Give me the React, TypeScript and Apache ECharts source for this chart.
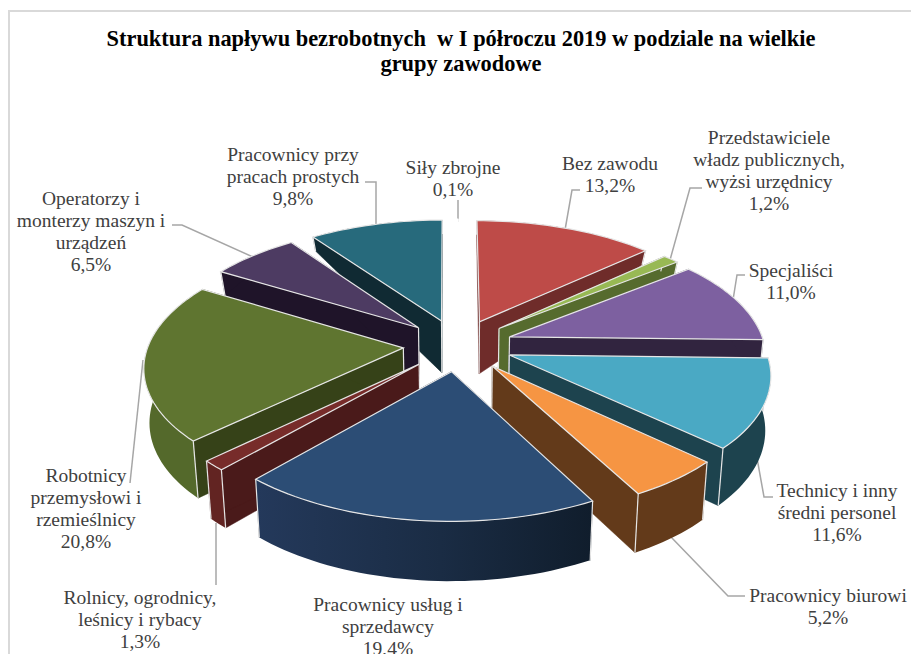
import React, { useEffect, useRef } from "react";
import * as echarts from "echarts";

const titleText = "Struktura napływu bezrobotnych  w I półroczu 2019 w podziale na wielkie\ngrupy zawodowe";
const categories = [
  "Bez zawodu",
  "Przedstawiciele\nwładz publicznych,\nwyżsi urzędnicy",
  "Specjaliści",
  "Technicy i inny\nśredni personel",
  "Pracownicy biurowi",
  "Pracownicy usług i\nsprzedawcy",
  "Rolnicy, ogrodnicy,\nleśnicy i rybacy",
  "Robotnicy\nprzemysłowi i\nrzemieślnicy",
  "Operatorzy i\nmonterzy maszyn i\nurządzeń",
  "Pracownicy przy\npracach prostych",
  "Siły zbrojne",
];
const shares = [13.2, 1.2, 11.0, 11.6, 5.2, 19.4, 1.3, 20.8, 6.5, 9.8, 0.1];

const topColors = ["#BE4B48", "#98B954", "#7D60A0", "#4AA9C4", "#F69543", "#2C4D75", "#772C2A", "#5F7530", "#4D3B62", "#276A7C", "#FFFFFF"];
const wallColors = ["#6F2C2A", "#566B2E", "#31243F", "#1D434E", "#633A1A", "#101D2C", "#4A1A1A", "#364218", "#1F1429", "#102A33", "#FFFFFF"];
const rimColors = ["#6F2C2A", "#566B2E", "#31243F", "#1D434E", "#633A1A", "GRADIENT", "#622422", "#54692B", "#1F1429", "#102A33", "#FFFFFF"];

const labelCentres: number[][] = [
  [610, 174], [769, 170], [791, 281], [837, 512], [828, 606], [388, 626], [140, 619], [86, 508], [91, 231], [293, 176], [453, 178],
];
const leaders: number[][][] = [
  [[580, 190], [572, 190], [565, 230]],
  [[702, 188], [690, 188], [670, 260]],
  [[745, 275], [737, 275], [733, 300]],
  [[773, 497], [764, 497], [757, 458]],
  [[745, 596], [728, 596], [671, 537]],
  [],
  [[216, 523], [216, 585]],
  [[143, 360], [130, 483]],
  [[172, 225], [182, 225], [253, 257]],
  [[365, 182], [376, 182], [376, 226]],
  [[458, 200], [458, 222]],
];

const CX = 458, CY = 345, RX = 255, RY = 121, PERSP = 0.138, EXPLODE = 0.215;
const total = shares.reduce((a, b) => a + b, 0);
const starts: number[] = [];
shares.reduce((acc, v, i) => { starts[i] = acc; return acc + (v / total) * 2 * Math.PI; }, 0);
const midAngle = (i: number) => starts[i] + (shares[i] / total) * Math.PI;
const drawOrder = shares.map((_, i) => i).sort((a, b) => Math.cos(midAngle(b)) - Math.cos(midAngle(a)));

const wallHeight = (z: number) => z < 0.2 ? 52 + (0.2 - z) * 5.5 : Math.max(14, 52 - (z - 0.2) * 60);
const project = (wx: number, wz: number, down: boolean) => {
  const s = 1 / (1 + PERSP * wz);
  const x = CX + RX * wx * s, y = CY - RY * wz * s;
  if (!down) return [x, y];
  return [x + (CX - x) * 0.018, y + wallHeight(wz)];
};

function renderSlice(params: any) {
  const i = drawOrder[params.dataIndex];
  const a0 = starts[i], a1 = a0 + (shares[i] / total) * 2 * Math.PI, m = midAngle(i);
  const ox = EXPLODE * Math.sin(m), oz = EXPLODE * Math.cos(m);
  const pt = (a: number, down: boolean) => project(ox + Math.sin(a), oz + Math.cos(a), down);
  const tip = project(ox, oz, false), tipDown = project(ox, oz, true);
  const n = Math.max(2, Math.ceil((a1 - a0) / 0.03));
  const top: number[][] = [], bottom: number[][] = [];
  for (let k = 0; k <= n; k++) {
    const a = a0 + ((a1 - a0) * k) / n;
    top.push(pt(a, false));
    bottom.push(pt(a, true));
  }
  const rimFill = rimColors[i] === "GRADIENT"
    ? new echarts.graphic.LinearGradient(0, 0, 1, 0, [
        { offset: 0, color: "#24395B" },
        { offset: 0.55, color: "#1A2C44" },
        { offset: 1, color: "#101D2C" },
      ])
    : rimColors[i];
  const edge = i === 10 ? "#FFFFFF" : "#E6E6E6";
  const poly = (points: number[][], fill: any, stroke: any, lineWidth = 1) => ({
    type: "polygon", silent: true, shape: { points }, style: { fill, stroke, lineWidth },
  });
  const corner = (p: number[], q: number[]) => ({
    type: "line", silent: true,
    shape: { x1: p[0], y1: p[1], x2: q[0], y2: q[1] },
    style: { stroke: edge, lineWidth: 1.2 },
  });
  return {
    type: "group",
    children: [
      poly([tip, top[0], bottom[0], tipDown], wallColors[i], wallColors[i], 0.5),
      poly([tip, top[n], bottom[n], tipDown], wallColors[i], wallColors[i], 0.5),
      poly([...top, ...bottom.slice().reverse()], rimFill, "none", 0),
      corner(top[0], bottom[0]),
      corner(top[n], bottom[n]),
      corner(tip, tipDown),
      poly([tip, ...top], topColors[i], edge, 1.2),
    ],
  };
}

const labelFont = "'Liberation Serif', serif";
const formatShare = (v: number) => v.toFixed(1).replace(".", ",") + "%";

export default function App() {
  const ref = useRef<HTMLDivElement>(null);
  useEffect(() => {
    const chart = echarts.init(ref.current!, null, { renderer: "svg" });
    const graphics: any[] = [
      {
        type: "rect", silent: true, z: -1,
        shape: { x: 9, y: 11, width: 930, height: 680 },
        style: { fill: "#FFFFFF", stroke: "#D9D9D9", lineWidth: 2 },
      },
    ];
    categories.forEach((name, i) => {
      if (leaders[i].length) {
        graphics.push({
          type: "polyline", silent: true, z: 1,
          shape: { points: leaders[i] },
          style: { stroke: "#A6A6A6", lineWidth: 1.5, fill: "none" },
        });
      }
      graphics.push({
        type: "text", silent: true, z: 5,
        x: labelCentres[i][0], y: labelCentres[i][1],
        style: {
          text: name + "\n" + formatShare(shares[i]),
          align: "center", verticalAlign: "middle",
          font: "19.5px " + labelFont, lineHeight: 22, fill: "#404040",
        },
      });
    });
    graphics.push({
      type: "text", silent: true, z: 5, x: 461, y: 51,
      style: {
        text: titleText, align: "center", verticalAlign: "middle",
        font: "bold 22.4px " + labelFont, lineHeight: 25, fill: "#000000",
      },
    });
    chart.setOption({
      animation: false,
      backgroundColor: "#FFFFFF",
      graphic: { elements: graphics },
      series: [
        {
          type: "custom", coordinateSystem: "none", silent: true, z: 3,
          renderItem: renderSlice,
          data: drawOrder.map((i) => [shares[i]]),
        },
      ],
    });
    return () => chart.dispose();
  }, []);
  return <div ref={ref} style={{ position: "fixed", left: 0, top: 0, width: 911, height: 654 }} />;
}
